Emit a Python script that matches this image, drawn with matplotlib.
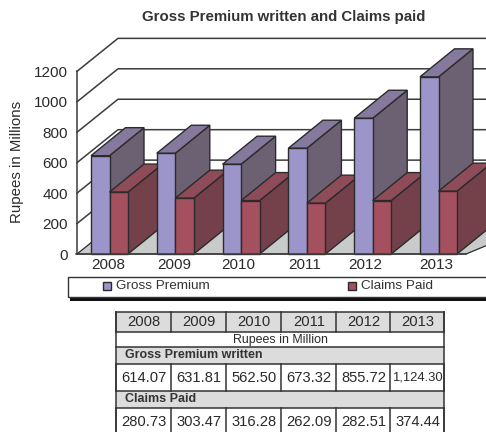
import matplotlib
matplotlib.use("Agg")
import matplotlib.pyplot as plt
from matplotlib.patches import Polygon, Rectangle

plt.rcParams['font.family'] = ['Liberation Sans', 'DejaVu Sans']

years = ['2008', '2009', '2010', '2011', '2012', '2013']
# bar heights as read against the chart's own axis
gross_bars = [646, 662, 590, 695, 892, 1164]
claims_bars = [407, 367, 351, 334, 351, 413]
y_ticks = [0, 200, 400, 600, 800, 1000, 1200]

# table values
table_gross = ['614.07', '631.81', '562.50', '673.32', '855.72', '1,124.30']
table_claims = ['280.73', '303.47', '316.28', '262.09', '282.51', '374.44']

W, H = 486, 432
zero_px = 254
px_per_unit = 0.1522
first_px, step_px, bar_px = 91, 65.8, 18.5
depth_x, depth_y = 34.5, 28 / px_per_unit   # bar depth
wall_x, wall_y = 41, 33 / px_per_unit       # wall depth
axis_px = 77
edge = '#2b2b2b'

fig = plt.figure(figsize=(W / 100, H / 100), dpi=100)
ax = fig.add_axes([0, 0, 1, 1])
ax.set_xlim(0, W)
ax.set_ylim(-(H - zero_px) / px_per_unit, zero_px / px_per_unit)
ax.patch.set_alpha(0)

# walls
for v in y_ticks[1:]:
    ax.plot([axis_px, axis_px + wall_x, W + 5], [v, v + wall_y, v + wall_y], color='#3c3c3c', lw=1.1, zorder=1)
ax.add_patch(Polygon([(axis_px, 0), (axis_px + wall_x, wall_y), (W + 60, wall_y), (466, 0)],
                     fc='#c9caca', ec=edge, lw=0.9, zorder=2))


def bar3d(x, h, front, top, side, z):
    ax.add_patch(Polygon([(x + bar_px, 0), (x + bar_px + depth_x, depth_y), (x + bar_px + depth_x, h + depth_y), (x + bar_px, h)],
                         fc=side, ec=edge, lw=1, zorder=z))
    ax.add_patch(Polygon([(x, h), (x + depth_x, h + depth_y), (x + bar_px + depth_x, h + depth_y), (x + bar_px, h)],
                         fc=top, ec=edge, lw=1, zorder=z))
    ax.bar(x, h, width=bar_px, align='edge', color=front, edgecolor=edge, lw=1, zorder=z)


for i in range(len(years)):
    x = first_px + step_px * i
    bar3d(x, gross_bars[i], '#9b95c9', '#857a9e', '#6c6073', 3 + 2 * i)
    bar3d(x + bar_px, claims_bars[i], '#a5505f', '#8e4b58', '#74414b', 4 + 2 * i)

for s in ['top', 'right']:
    ax.spines[s].set_visible(False)
ax.spines['left'].set_position(('data', axis_px))
ax.spines['left'].set_bounds(0, 1200)
ax.spines['bottom'].set_position(('data', 0))
ax.spines['bottom'].set_bounds(axis_px - 1, 466)
for s in ['left', 'bottom']:
    ax.spines[s].set_color('#3c3c3c')
    ax.spines[s].set_linewidth(1.1)
    ax.spines[s].set_zorder(20)
ax.set_yticks(y_ticks)
ax.set_xticks([108, 174, 238, 305, 365, 436])
ax.set_xticklabels(years)
ax.tick_params(axis='both', length=0, labelsize=11, labelcolor='#2b2b2b')
ax.tick_params(axis='y', pad=6.5)
ax.tick_params(axis='x', pad=3)

# page overlay in pixels: title, legend, table
page = fig.add_axes([0, 0, 1, 1])
page.set_xlim(0, W)
page.set_ylim(H, 0)
page.axis('off')
page.patch.set_alpha(0)

page.text(283.5, 17, 'Gross Premium written and Claims paid', fontsize=10.8, fontweight='bold',
          color='#333333', ha='center', va='center')
page.text(16.5, 162, 'Rupees in Millions', fontsize=10.8, color='#2b2b2b', rotation=90, ha='center', va='center')

# legend box
page.add_patch(Rectangle((70, 297), 430, 3.5, fc='#111111', ec='none'))
page.add_patch(Rectangle((67.5, 277), 430, 20, fc='white', ec='#333333', lw=1))
page.add_patch(Rectangle((103, 282), 7.5, 8, fc='#9b95c9', ec=edge, lw=1))
page.add_patch(Rectangle((348, 282), 7.5, 8, fc='#a5505f', ec=edge, lw=1))
page.text(116, 286, 'Gross Premium', fontsize=9.7, color='#333333', va='center')
page.text(361, 286, 'Claims Paid', fontsize=9.7, color='#333333', va='center')

# table
col_px = [116, 171, 226, 281, 336, 390, 444]
row_px = [312, 332, 347, 364, 391, 408, 436]
grey = '#dcdcdc'
line = '#333333'
page.add_patch(Rectangle((col_px[0], row_px[0]), col_px[-1] - col_px[0], row_px[1] - row_px[0], fc=grey, ec='none'))
page.add_patch(Rectangle((col_px[0], row_px[2]), col_px[-1] - col_px[0], row_px[3] - row_px[2], fc=grey, ec='none'))
page.add_patch(Rectangle((col_px[0], row_px[4]), col_px[-1] - col_px[0], row_px[5] - row_px[4], fc=grey, ec='none'))
for y in row_px[:-1]:
    page.plot([col_px[0], col_px[-1]], [y, y], color=line, lw=1.1)
for x in col_px:
    for r in (0, 3, 5):
        page.plot([x, x], [row_px[r], row_px[r + 1]], color=line, lw=1.1)
for x in (col_px[0], col_px[-1]):
    page.plot([x, x], [row_px[0], row_px[-1]], color=line, lw=1.1)


def cell_row(labels, r):
    for j, t in enumerate(labels):
        page.text((col_px[j] + col_px[j + 1]) / 2 + 0.5, (row_px[r] + row_px[r + 1]) / 2, t,
                  fontsize=9.4 if len(t) > 6 else 10.6, color='#2a2a2a', ha='center', va='center')


cell_row(years, 0)
page.text((col_px[0] + col_px[-1]) / 2, (row_px[1] + row_px[2]) / 2, 'Rupees in Million', fontsize=8.9,
          color='#2a2a2a', ha='center', va='center')
page.text(125, (row_px[2] + row_px[3]) / 2, 'Gross Premium written', fontsize=9, fontweight='bold',
          color='#333333', va='center')
cell_row(table_gross, 3)
page.text(125, (row_px[4] + row_px[5]) / 2, 'Claims Paid', fontsize=9, fontweight='bold',
          color='#333333', va='center')
cell_row(table_claims, 5)

fig.savefig('out.png', dpi=100)
